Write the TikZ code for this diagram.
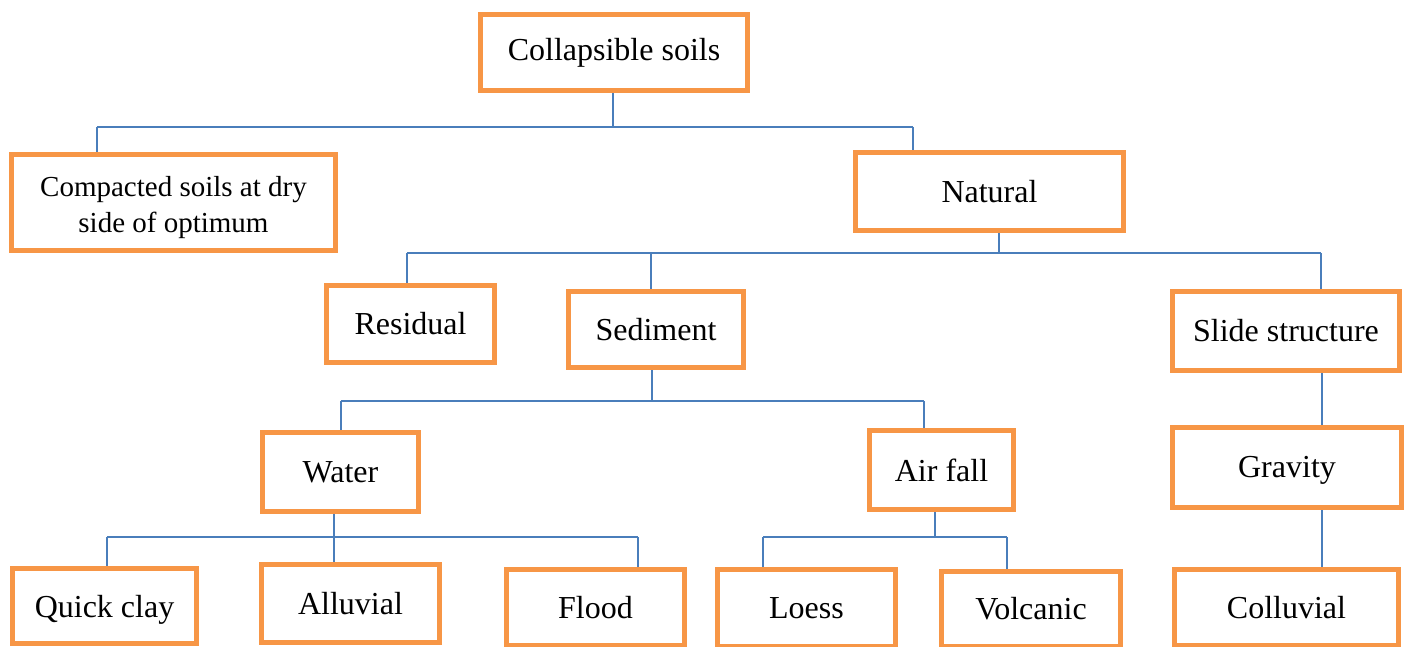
\documentclass[tikz,border=0pt]{standalone}
\usepackage{fontspec}
\setmainfont{Liberation Serif}
\usetikzlibrary{backgrounds}
\definecolor{boxorange}{HTML}{F79646}
\definecolor{lineblue}{HTML}{4A7EBB}
\newcommand\mybox[7][]{\node[box, minimum width={#5-#3-5}, minimum height={#6-#4-5}, #1] (#2) at ({(#3+#5)/2},{(#4+#6)/2}) {#7};}
\begin{document}
\begin{tikzpicture}[x=1pt,y=-1pt,
  box/.style={draw=boxorange, line width=5pt, fill=white, inner sep=0pt, align=center, font=\fontsize{32}{38}\selectfont},
  small/.style={font=\fontsize{29}{36}\selectfont},
  conn/.style={draw=lineblue, line width=2pt}]
\useasboundingbox (0,0) rectangle (1405,647);
\mybox{root}{478}{12}{750}{93}{Collapsible soils}
\mybox[small, text height=66pt]{comp}{9}{152}{338}{253}{Compacted soils at dry\\side of optimum}
\mybox{nat}{853}{150}{1126}{233}{Natural}
\mybox{res}{324}{283}{497}{365}{Residual}
\mybox{sed}{566}{289}{746}{370}{Sediment}
\mybox{slide}{1170}{289}{1402}{373}{Slide structure}
\mybox{water}{260}{430}{421}{514}{Water}
\mybox{air}{867}{428}{1016}{512}{Air fall}
\mybox[text height=27pt]{grav}{1170}{425}{1404}{510}{Gravity}
\mybox[text height=30pt]{quick}{10}{566}{199}{646}{Quick clay}
\mybox{allu}{259}{562}{442}{645}{Alluvial}
\mybox{flood}{504}{567}{687}{648}{Flood}
\mybox{loess}{715}{567}{898}{649}{Loess}
\mybox{volc}{939}{569}{1123}{649}{Volcanic}
\mybox{coll}{1172}{567}{1401}{648}{Colluvial}
\coordinate (a1) at (97,127);
\coordinate (a2) at (913,127);
\coordinate (a0) at (613,127);
\coordinate (b0) at (999,253);
\coordinate (b1) at (407,253);
\coordinate (b2) at (651,253);
\coordinate (b3) at (1321,253);
\coordinate (c0) at (652,401);
\coordinate (c1) at (341,401);
\coordinate (c2) at (924,401);
\coordinate (s0) at (1322,373);
\coordinate (d0) at (334,537);
\coordinate (d1) at (107,537);
\coordinate (d2) at (638,537);
\coordinate (e0) at (935,537);
\coordinate (e1) at (763,537);
\coordinate (e2) at (1007,537);
\begin{scope}[on background layer]
\draw[conn] (a0 |- root.south) -- (a0);
\draw[conn] (a1) -- (a2);
\draw[conn] (a1) -- (a1 |- comp.north);
\draw[conn] (a2) -- (a2 |- nat.north);
\draw[conn] (b0 |- nat.south) -- (b0);
\draw[conn] (b1) -- (b3);
\draw[conn] (b1) -- (b1 |- res.north);
\draw[conn] (b2) -- (b2 |- sed.north);
\draw[conn] (b3) -- (b3 |- slide.north);
\draw[conn] (c0 |- sed.south) -- (c0);
\draw[conn] (c1) -- (c2);
\draw[conn] (c1) -- (c1 |- water.north);
\draw[conn] (c2) -- (c2 |- air.north);
\draw[conn] (s0 |- slide.south) -- (s0 |- grav.north);
\draw[conn] (s0 |- grav.south) -- (s0 |- coll.north);
\draw[conn] (d0 |- water.south) -- (d0);
\draw[conn] (d1) -- (d2);
\draw[conn] (d1) -- (d1 |- quick.north);
\draw[conn] (d0) -- (d0 |- allu.north);
\draw[conn] (d2) -- (d2 |- flood.north);
\draw[conn] (e0 |- air.south) -- (e0);
\draw[conn] (e1) -- (e2);
\draw[conn] (e1) -- (e1 |- loess.north);
\draw[conn] (e2) -- (e2 |- volc.north);
\end{scope}
\end{tikzpicture}
\end{document}
